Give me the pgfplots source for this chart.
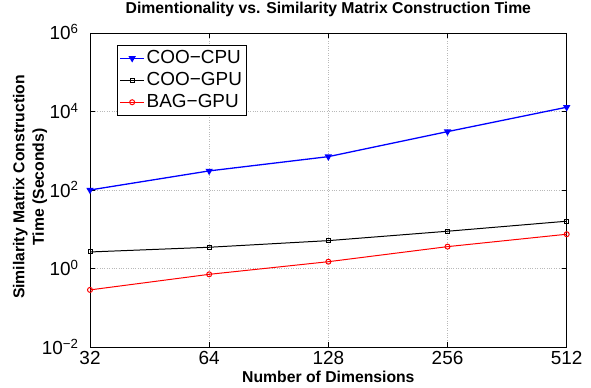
\documentclass[border=0pt]{standalone}
\usepackage{pgfplots}
\pgfplotsset{compat=1.18}
\usepackage{fontspec}
\setmainfont{Liberation Sans}
\definecolor{mblue}{RGB}{0,0,255}
\definecolor{mred}{RGB}{255,0,0}
\begin{document}
\begin{tikzpicture}
\begin{axis}[
  at={(0,0)}, anchor=south west, scale only axis,
  width=476.7bp, height=314.3bp,
  xmode=log, log basis x=2, ymode=log,
  xmin=32, xmax=512, ymin=1e-2, ymax=1e6,
  xtick={32,64,128,256,512}, xticklabels={32,64,128,256,512},
  ytick={1e-2,1,1e2,1e4,1e6},
  yticklabels={10\textsuperscript{−2},10\textsuperscript{0},10\textsuperscript{2},10\textsuperscript{4},10\textsuperscript{6}},
  yminorticks=false, xminorticks=false,
  tick align=inside, major tick length=5bp,
  tick style={black, line width=0.6pt},
  axis line style={line width=0.8pt},
  grid=major, major grid style={dotted, gray!55, line width=0.5pt},
  ticklabel style={font=\fontsize{19}{20}\selectfont},
  yticklabel style={anchor=base east, yshift=-7bp, xshift=-8bp},
  title={\bfseries Dimentionality vs. Similarity Matrix Construction Time},
  title style={font=\fontsize{15.8}{17}\selectfont, at={(0.5,1)}, anchor=base, yshift=14bp},
  xlabel={\bfseries Number of Dimensions},
  xlabel style={font=\fontsize{15.8}{17}\selectfont, at={(0.5,0)}, anchor=base, yshift=-35.4bp},
  ylabel={\bfseries Similarity Matrix Construction\\\bfseries Time (Seconds)},
  ylabel style={font=\fontsize{15.8}{19.5}\selectfont, align=center, at={(-0.1259,0.51)}, anchor=center},
  legend style={at={(0.0573,0.962)}, anchor=north west, draw=black, line width=0.6pt,
    font=\fontsize{19}{20}\selectfont, inner sep=2bp, row sep=0bp,
    nodes={inner sep=2bp, text height=14bp, text depth=4bp}},
  legend cell align=left,
  legend image code/.code={\draw[mark repeat=2,mark phase=2] plot coordinates {(0cm,0cm) (0.42cm,0cm) (0.84cm,0cm)};},
]
\addplot[mblue, line width=1.3pt, mark=triangle*, mark options={rotate=180, solid}, mark size=3bp]
  coordinates {(32,101) (64,309) (128,713) (256,3090) (512,12900)};
\addlegendentry{COO−CPU}
\addplot[black, line width=1pt, mark=square, mark size=2bp, mark options={solid}]
  coordinates {(32,2.67) (64,3.52) (128,5.19) (256,9.0) (512,16.2)};
\addlegendentry{COO−GPU}
\addplot[mred, line width=1pt, mark=o, mark size=2.5bp, mark options={solid}]
  coordinates {(32,0.289) (64,0.72) (128,1.51) (256,3.65) (512,7.55)};
\addlegendentry{BAG−GPU}
\end{axis}
\pgfresetboundingbox
\path (-90bp,-40.7bp) rectangle (501bp,347.3bp);
\end{tikzpicture}
\end{document}
